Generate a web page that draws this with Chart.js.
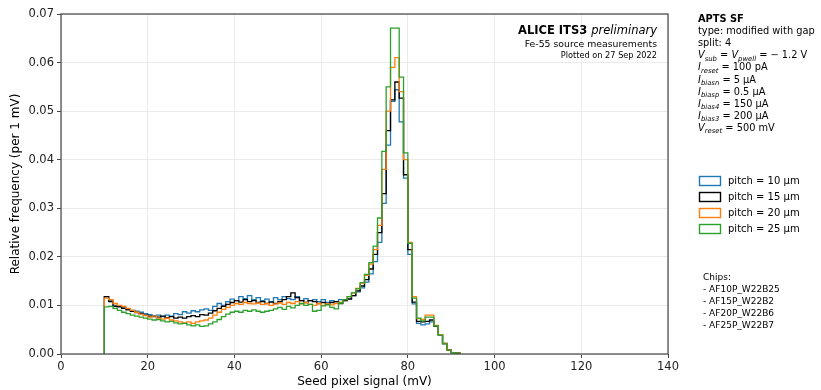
<!DOCTYPE html>
<html>
<head>
<meta charset="utf-8">
<script src="https://cdn.jsdelivr.net/npm/chart.js@4/dist/chart.umd.min.js"></script>
<style>
  html, body { margin: 0; padding: 0; background: #fff; }
  #wrap { width: 821px; height: 390px; position: relative; }
</style>
</head>
<body>
<div id="wrap"><canvas id="seed-chart" width="821" height="390"></canvas></div>
<script>
// Seed pixel signal histograms, 1 mV bins starting at 10 mV
const binStart = 10;
const binWidth = 1;

const pitch10 = [
  0.0118, 0.0110, 0.0100, 0.0098, 0.0095, 0.0093, 0.0090, 0.0088, 0.0086, 0.0083,
  0.0081, 0.0079, 0.0080, 0.0077, 0.0080, 0.0078, 0.0083, 0.0081, 0.0087, 0.0084,
  0.0089, 0.0087, 0.0091, 0.0093, 0.0090, 0.0098, 0.0104, 0.0100, 0.0108, 0.0113,
  0.0110, 0.0118, 0.0114, 0.0120, 0.0112, 0.0116, 0.0110, 0.0113, 0.0108, 0.0116,
  0.0112, 0.0118, 0.0114, 0.0112, 0.0118, 0.0110, 0.0114, 0.0110, 0.0112, 0.0108,
  0.0112, 0.0106, 0.0110, 0.0108, 0.0112, 0.0110, 0.0114, 0.0120, 0.0128, 0.0136,
  0.0148, 0.0165, 0.0190, 0.0230, 0.0310, 0.0430, 0.0520, 0.0544, 0.0478, 0.0362,
  0.0205, 0.0103, 0.0063, 0.0060, 0.0062, 0.0066, 0.0057, 0.0039, 0.0021, 0.0008,
  0.0003, 0.0002
];
const pitch15 = [
  0.0118, 0.0108, 0.0098, 0.0097, 0.0094, 0.0091, 0.0088, 0.0085, 0.0083, 0.0080,
  0.0078, 0.0077, 0.0076, 0.0078, 0.0075, 0.0077, 0.0074, 0.0076, 0.0074, 0.0077,
  0.0079, 0.0077, 0.0081, 0.0080, 0.0084, 0.0089, 0.0094, 0.0098, 0.0102, 0.0106,
  0.0110, 0.0107, 0.0112, 0.0108, 0.0110, 0.0106, 0.0108, 0.0104, 0.0107, 0.0104,
  0.0108, 0.0112, 0.0118, 0.0126, 0.0116, 0.0110, 0.0106, 0.0110, 0.0108, 0.0104,
  0.0106, 0.0102, 0.0106, 0.0108, 0.0104, 0.0110, 0.0113, 0.0120, 0.0130, 0.0140,
  0.0153, 0.0175, 0.0205, 0.0250, 0.0330, 0.0460, 0.0523, 0.0560, 0.0527, 0.0369,
  0.0215, 0.0107, 0.0067, 0.0066, 0.0067, 0.0070, 0.0058, 0.0040, 0.0022, 0.0008,
  0.0003, 0.0002
];
const pitch20 = [
  0.0115, 0.0112, 0.0104, 0.0100, 0.0098, 0.0094, 0.0090, 0.0086, 0.0082, 0.0079,
  0.0076, 0.0078, 0.0074, 0.0072, 0.0074, 0.0070, 0.0068, 0.0066, 0.0064, 0.0066,
  0.0063, 0.0066, 0.0068, 0.0070, 0.0074, 0.0080, 0.0086, 0.0092, 0.0096, 0.0100,
  0.0104, 0.0102, 0.0106, 0.0104, 0.0103, 0.0105, 0.0102, 0.0104, 0.0100, 0.0103,
  0.0105, 0.0102, 0.0106, 0.0104, 0.0108, 0.0103, 0.0106, 0.0102, 0.0100, 0.0104,
  0.0100, 0.0103, 0.0101, 0.0104, 0.0106, 0.0112, 0.0118, 0.0126, 0.0135, 0.0146,
  0.0162, 0.0185, 0.0215, 0.0265, 0.0380, 0.0500, 0.0590, 0.0610, 0.0540, 0.0400,
  0.0230, 0.0118, 0.0073, 0.0071, 0.0080, 0.0080, 0.0059, 0.0040, 0.0022, 0.0008,
  0.0003, 0.0002
];
const pitch25 = [
  0.0097, 0.0098, 0.0094, 0.0090, 0.0086, 0.0083, 0.0080, 0.0078, 0.0076, 0.0074,
  0.0072, 0.0070, 0.0071, 0.0068, 0.0066, 0.0067, 0.0064, 0.0062, 0.0063, 0.0060,
  0.0058, 0.0060, 0.0057, 0.0058, 0.0062, 0.0066, 0.0071, 0.0077, 0.0082, 0.0086,
  0.0088, 0.0086, 0.0090, 0.0088, 0.0091, 0.0088, 0.0086, 0.0088, 0.0090, 0.0093,
  0.0096, 0.0092, 0.0098, 0.0095, 0.0100, 0.0104, 0.0100, 0.0102, 0.0088, 0.0090,
  0.0099, 0.0101, 0.0096, 0.0093, 0.0105, 0.0112, 0.0118, 0.0126, 0.0134, 0.0147,
  0.0164, 0.0188, 0.0222, 0.0280, 0.0417, 0.0550, 0.0671, 0.0671, 0.0570, 0.0414,
  0.0228, 0.0115, 0.0074, 0.0068, 0.0076, 0.0076, 0.0058, 0.0039, 0.0021, 0.0008,
  0.0003, 0.0002
];

const seriesLabels = ['pitch = 10 \u00b5m', 'pitch = 15 \u00b5m', 'pitch = 20 \u00b5m', 'pitch = 25 \u00b5m'];
const seriesColors = ['#1f77b4', '#000000', '#ff7f0e', '#2ca02c'];
const chipNames = ['AF10P_W22B25', 'AF15P_W22B2', 'AF20P_W22B6', 'AF25P_W22B7'];

const xTicks = { min: 0, max: 140, step: 20 };
const yTicks = { min: 0, max: 0.07, step: 0.01 };

// Setup description, each line is a list of text runs (sub = subscript)
const setupLines = [
  [{ t: 'APTS SF', s: 'bold' }],
  [{ t: 'type: modified with gap' }],
  [{ t: 'split: 4' }],
  [{ t: 'V', s: 'italic' }, { t: 'sub', s: 'italic', sub: true }, { t: ' = ' },
   { t: 'V', s: 'italic' }, { t: 'pwell', s: 'italic', sub: true }, { t: ' = \u2212 1.2 V' }],
  [{ t: 'I', s: 'italic' }, { t: 'reset', s: 'italic', sub: true }, { t: ' = 100 pA' }],
  [{ t: 'I', s: 'italic' }, { t: 'biasn', s: 'italic', sub: true }, { t: ' = 5 \u00b5A' }],
  [{ t: 'I', s: 'italic' }, { t: 'biasp', s: 'italic', sub: true }, { t: ' = 0.5 \u00b5A' }],
  [{ t: 'I', s: 'italic' }, { t: 'bias4', s: 'italic', sub: true }, { t: ' = 150 \u00b5A' }],
  [{ t: 'I', s: 'italic' }, { t: 'bias3', s: 'italic', sub: true }, { t: ' = 200 \u00b5A' }],
  [{ t: 'V', s: 'italic' }, { t: 'reset', s: 'italic', sub: true }, { t: ' = 500 mV' }]
];

const FONT = '"DejaVu Sans", "Liberation Sans", sans-serif';
Chart.defaults.font.family = FONT;
Chart.defaults.color = '#000';

// histogram outline: start on zero, one point per bin left edge, close on zero
function toSteps(values) {
  const pts = [{ x: binStart, y: 0 }];
  values.forEach((v, i) => pts.push({ x: binStart + i * binWidth, y: v }));
  pts.push({ x: binStart + values.length * binWidth, y: 0 });
  return pts;
}

function runsWidth(ctx, runs, size) {
  let w = 0;
  for (const r of runs) {
    ctx.font = `${r.s || ''} ${r.sub ? size * 0.7 : size}px ${FONT}`;
    w += ctx.measureText(r.t).width;
  }
  return w;
}

function drawRuns(ctx, runs, x, y, size) {
  let cx = x;
  for (const r of runs) {
    const fs = r.sub ? size * 0.7 : size;
    ctx.font = `${r.s || ''} ${fs}px ${FONT}`;
    ctx.fillText(r.t, cx, y + (r.sub ? size * 0.24 : 0));
    cx += ctx.measureText(r.t).width;
  }
}

const decorations = {
  id: 'decorations',
  afterDraw(chart) {
    const { ctx, chartArea: a } = chart;
    ctx.save();

    // axes frame
    ctx.strokeStyle = '#444';
    ctx.lineWidth = 1.2;
    ctx.strokeRect(a.left, a.top, a.right - a.left, a.bottom - a.top);

    // header inside the plot
    ctx.fillStyle = '#000';
    ctx.textBaseline = 'alphabetic';
    const head = [{ t: 'ALICE ITS3 ', s: 'bold' }, { t: 'preliminary', s: 'italic' }];
    drawRuns(ctx, head, a.right - 11 - runsWidth(ctx, head, 11.5), 34, 11.5);
    ctx.textAlign = 'right';
    ctx.font = `9.3px ${FONT}`;
    ctx.fillText('Fe-55 source measurements', a.right - 11, 46.5);
    ctx.font = `8.2px ${FONT}`;
    ctx.fillText('Plotted on 27 Sep 2022', a.right - 11, 58);
    ctx.textAlign = 'left';

    // setup description
    setupLines.forEach((runs, i) => drawRuns(ctx, runs, 698, 22 + i * 12.1, 9.8));

    // legend
    chart.data.datasets.forEach((ds, i) => {
      const y = 181 + i * 16;
      ctx.strokeStyle = ds.borderColor;
      ctx.lineWidth = 1.4;
      ctx.strokeRect(699.5, y - 4.5, 21, 9);
      ctx.fillStyle = '#000';
      ctx.font = `10px ${FONT}`;
      ctx.textBaseline = 'middle';
      ctx.fillText(ds.label, 728, y + 0.5);
    });

    // chip list
    ctx.textBaseline = 'middle';
    ctx.font = `9px ${FONT}`;
    ctx.fillText('Chips:', 703, 278);
    chipNames.forEach((c, i) => ctx.fillText('- ' + c, 703, 290 + i * 12));

    ctx.restore();
  }
};

const seriesData = [pitch10, pitch15, pitch20, pitch25];

new Chart(document.getElementById('seed-chart'), {
  type: 'line',
  data: {
    datasets: seriesData.map((vals, i) => ({
      label: seriesLabels[i],
      data: toSteps(vals),
      borderColor: seriesColors[i],
      borderWidth: 1.3,
      stepped: true,
      pointRadius: 0,
      fill: false,
      order: seriesData.length - i
    }))
  },
  options: {
    responsive: false,
    animation: false,
    layout: { padding: { top: 14, right: 153, left: 0, bottom: 0 } },
    plugins: {
      legend: { display: false },
      tooltip: { enabled: false }
    },
    scales: {
      x: {
        type: 'linear',
        min: xTicks.min,
        max: xTicks.max,
        afterFit: (s) => { s.height = 36; },
        ticks: { stepSize: xTicks.step, font: { size: 11.5 }, color: '#222', padding: 2, maxRotation: 0 },
        grid: { color: '#ebebeb', tickColor: '#444', tickLength: 4 },
        border: { display: false },
        title: { display: true, text: 'Seed pixel signal (mV)', font: { size: 12 }, padding: { top: 0, bottom: 1 } }
      },
      y: {
        min: yTicks.min,
        max: yTicks.max,
        afterFit: (s) => { s.width = 61; },
        ticks: { stepSize: yTicks.step, font: { size: 11.5 }, color: '#222', padding: 3,
                 callback: (v) => v.toFixed(2) },
        grid: { color: '#ebebeb', tickColor: '#444', tickLength: 4 },
        border: { display: false },
        title: { display: true, text: 'Relative frequency (per 1 mV)', font: { size: 12 }, padding: { top: 9, bottom: 0 } }
      }
    }
  },
  plugins: [decorations]
});
</script>
</body>
</html>
